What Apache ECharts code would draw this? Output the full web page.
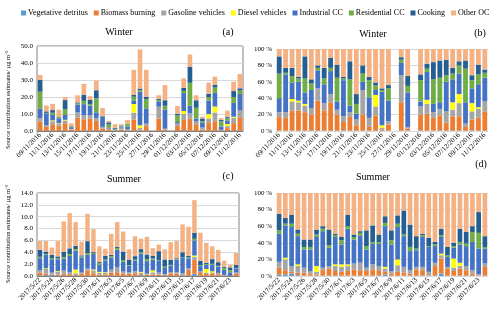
<!DOCTYPE html>
<html><head><meta charset="utf-8">
<script src="https://cdn.jsdelivr.net/npm/echarts@6/dist/echarts.min.js"></script>
<style>html,body{margin:0;padding:0;background:#fff}#c{width:500px;height:311px}</style>
</head><body><div id="c"></div>
<script>
const seriesNames = ['Vegetative detritus','Biomass burning','Gasoline vehicles','Diesel vehicles','Industrial CC','Residential CC','Cooking','Other OC'];
const colors = ['#5B9BD5','#ED7D31','#A5A5A5','#FFFF00','#4472C4','#70AD47','#255E91','#F4B183'];

const winterDates = ['09/11/2016','10/11/2016','11/11/2016','12/11/2016','13/11/2016','14/11/2016','15/11/2016','16/11/2016','17/11/2016','18/11/2016','19/11/2016','20/11/2016','21/11/2016','22/11/2016','23/11/2016','24/11/2016','25/11/2016','26/11/2016','27/11/2016','28/11/2016','29/11/2016','30/11/2016','01/12/2016','02/12/2016','03/12/2016','04/12/2016','05/12/2016','06/12/2016','07/12/2016','08/12/2016','09/12/2016','10/12/2016','11/12/2016'];
const summerDates = ['2017/5/22','2017/5/23','2017/5/24','2017/5/25','2017/5/26','2017/5/27','2017/5/28','2017/5/29','2017/5/30','2017/5/31','2017/6/1','2017/6/2','2017/6/3','2017/6/4','2017/6/5','2017/6/6','2017/6/7','2017/6/8','2017/6/9','2017/6/10','2017/6/11','2017/6/12','2017/6/13','2017/6/14','2017/6/15','2017/6/16','2017/6/17','2017/6/18','2017/6/19','2017/6/20','2017/6/21','2017/6/22','2017/6/23','2017/6/24'];

// Winter total OC (µg m-3), panel (a)
const winterTotal = [33,15,16,12.5,20,4.5,21,27.7,20.5,29.6,13.5,6,4,4,6.5,36,48,36,null,21,27,null,14.7,31,45,21,8.5,28.5,32,7.5,12,29,33.5];
// Winter shares (%), panel (b)
const wVeg   = [0.5,0.5,0.5,0.5,0.5,0.5,0.5,0.5,0.5,0.5,0.5,0.5,0.5,0.5,0.5,0.5,0.5,0.5,null,0.5,0.5,null,0.5,0.5,0.5,0.5,0.5,0.5,0.5,0.5,0.5,0.5,0.5];
const wBio   = [16.5,15.5,24.5,24.5,22.5,19.5,36.5,24.5,34.5,19.5,10.5,16.5,6.5,19.5,4.5,18.5,1.5,7.5,null,34.5,2.5,null,19.5,20.5,15.5,18.5,9.5,17.5,17.5,4.5,13.5,15.5,23.5];
const wGas   = [6,7,11,10,8,8,15,9,10,6,7,6,7,30,11,11,2,4,null,33,2,null,10,12,7,8,14,8,16,4,10,11,12];
const wDies  = [0,0,3,2,2,0,0,0,0,0,0,0,0,0,0,14,3,0,null,0,0,null,0,5,0,0,0,9,11,0,10,2,0];
const wInd   = [17,46,20,23,14,22,22,23,28,10,44,8,7,10,25,6,41,25,null,15,42,null,6,34,10,8,36,28,25,26,18,28,29];
const wRes   = [30,2,8,4,17,8,3,7,4,29,2,32,12,10,21,6,2,15,null,4,8,null,26,4,30,30,8,7,10,41,10,12,6];
const wCook  = [21,6,10,2,27,5,3,13,12,16,2,22,12,10,4,3,2,4,null,3,12,null,7,6,21,21,19,7,5,10,6,12,4];
const wOther = [9,23,23,34,9,37,20,23,11,19,34,15,55,20,34,41,48,44,null,10,33,null,31,18,16,14,13,23,15,14,32,19,25];

// Summer total OC (µg m-3), panel (c)
const summerTotal = [5.9,5.9,4.8,5.9,9.2,10.6,9.1,5.8,10.5,7.9,5.0,4.6,7.1,9.1,7.5,4.5,6.7,6.3,6.6,4.7,5.3,4.5,5.7,5.9,8.7,8.3,12.8,7.3,5.6,5.0,4.4,2.6,1.9,3.9];
// Summer shares (%), panel (d)
const sVeg   = [1.5,2,3,1,0.5,0.5,0.5,0.5,0.5,0.5,0.5,0.5,0.5,0.5,0.5,0.5,0.5,2,0.5,0.5,0.5,0.5,0.5,0.5,0.5,0.5,3,0.5,0.5,0.5,0.5,0.5,0.5,0.5];
const sBio   = [8.5,5,2,3,3.5,2.5,1.5,6.5,8.5,5.5,4.5,5.5,7.5,6.5,5.5,7.5,6.5,3,2.5,4.5,3.5,2.5,7.5,6.5,0.5,11.5,18,8.5,5.5,8.5,6.5,2.5,0.5,10.5];
const sGas   = [7,13,7,8,6,3,3,3,3,6,6,6,7,9,4,6,5,4,3,8,7,4,3,4,4,4,4,2,4,3,5,4,1,4];
const sDies  = [0,2,0,2,0,0,7,0,0,2,3,2,0,0,0,0,0,2,0,7,0,0,0,0,0,0,2,0,11,4,0,0,0,0];
const sInd   = [34,39,47,34,22,26,35,44,22,33,24,43,29,33,22,25,27,49,32,39,37,23,20,36,30,20,20,12,13,22,24,34,31,18];
const sRes   = [4,2,4,3,3,3,3,3,3,2,5,3,3,3,4,2,2,4,5,4,2,5,2,2,1,2,2,2,2,3,3,12,19,2];
const sCook  = [20,7,11,5,9,9,6,3,19,2,4,14,3,2,19,20,9,8,12,10,29,27,15,2,10,3,8,10,4,16,14,7,25,13];
const sOther = [25,30,26,44,56,56,44,40,44,49,53,26,50,46,45,39,50,28,45,27,21,38,52,49,54,59,43,65,60,43,47,40,23,52];

const winterShares = [wVeg,wBio,wGas,wDies,wInd,wRes,wCook,wOther];
const summerShares = [sVeg,sBio,sGas,sDies,sInd,sRes,sCook,sOther];

const FONT = "'Liberation Serif','Times New Roman',serif";
const chart = echarts.init(document.getElementById('c'));

function abs(share, total){ return share.map((v,i)=> (v==null||total[i]==null) ? null : +(v*total[i]/100).toFixed(3)); }

const grids = [
  {left:37, top:46, width:206, height:85, show:true, borderColor:'#808080', borderWidth:1},
  {left:276, top:49, width:212, height:82},
  {left:37, top:193, width:202, height:83, show:true, borderColor:'#808080', borderWidth:1},
  {left:276, top:193, width:212, height:83}
];
function xAx(gi, data, boxed){
  return {type:'category', gridIndex:gi, data:data,
    axisTick:{show:false},
    axisLine:{show:true, lineStyle:{color: boxed ? '#808080' : '#d9d9d9'}},
    axisLabel:{interval:1, rotate:45, fontSize:7, fontFamily:FONT, color:'#000', margin:3}};
}
function yAx(gi, max, interval, fmt){
  return {type:'value', gridIndex:gi, min:0, max:max, interval:interval,
    axisLine:{show:false}, axisTick:{show:false},
    splitLine:{lineStyle:{color:'#d9d9d9', width:1}},
    axisLabel:{fontSize:7, fontFamily:FONT, color:'#000', margin:4, formatter:fmt}};
}
const series = [];
const panels = [
  {gi:0, data: winterShares.map(s=>abs(s,winterTotal))},
  {gi:1, data: winterShares},
  {gi:2, data: summerShares.map(s=>abs(s,summerTotal))},
  {gi:3, data: summerShares}
];
panels.forEach(p=>{
  seriesNames.forEach((n,k)=>{
    series.push({name:n, type:'bar', stack:'s'+p.gi, xAxisIndex:p.gi, yAxisIndex:p.gi,
      data:p.data[k], barCategoryGap:'25%', itemStyle:{color:colors[k]}, emphasis:{disabled:true}});
  });
});
const yTitle = 'Source contribution estimates/ μg m⁻³';
function txt(x,y,t,size,rot){
  return {type:'text', x:x, y:y, rotation:rot||0, silent:true,
    style:{text:t, fill:'#000', font: size+'px '+FONT, align:'center', verticalAlign:'middle'}};
}
chart.setOption({
  animation:false,
  color: colors,
  legend:{data:seriesNames, left:16, top:4, itemWidth:5, itemHeight:5, itemGap:6, icon:'rect',
    textStyle:{fontSize:8, fontFamily:FONT, color:'#000', padding:[0,0,0,-3]}},
  grid: grids,
  xAxis:[xAx(0,winterDates,true), xAx(1,winterDates,false), xAx(2,summerDates,true), xAx(3,summerDates,false)],
  yAxis:[yAx(0,50,10,v=>v.toFixed(1)), yAx(1,100,20,v=>v+' %'), yAx(2,14,2,v=>v.toFixed(1)), yAx(3,100,20,v=>v+' %')],
  series: series,
  graphic:[
    txt(119,32,'Winter',10), txt(228,32,'(a)',10),
    txt(373,34,'Winter',10), txt(480,33,'(b)',10),
    txt(124,179,'Summer',10), txt(228,176,'(c)',10),
    txt(373,177,'Summer',10), txt(481,164,'(d)',10),
    txt(8,100,yTitle,6.5,Math.PI/2), txt(8,234,yTitle,6.5,Math.PI/2)
  ]
});
</script></body></html>
